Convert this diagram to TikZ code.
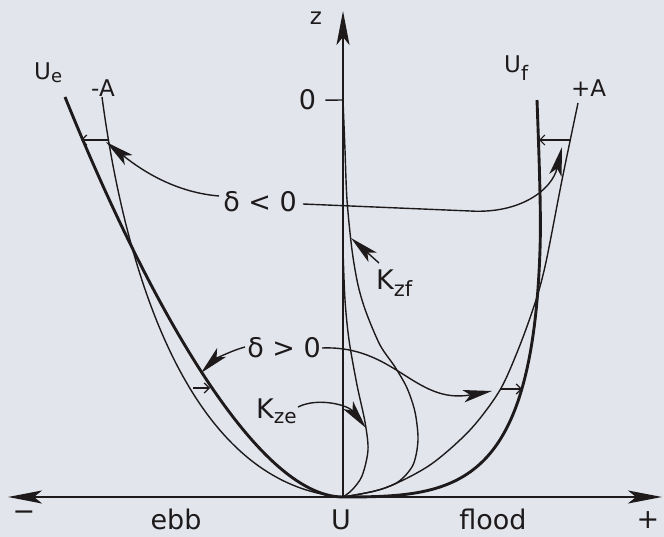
\documentclass[tikz,border=0pt]{standalone}
\usepackage{fontspec}
\setmainfont{DejaVu Sans}
\usetikzlibrary{arrows.meta}
\definecolor{bg}{RGB}{226,230,236}
\definecolor{ink}{RGB}{30,26,28}
\newcommand{\fsz}[1]{\fontsize{#1}{#1}\selectfont}
\newcommand{\lowsub}[3]{\raisebox{-#1}{\fsz{#2}#3}}
\begin{document}
\begin{tikzpicture}[x=1pt,y=-1pt,
  lbl/.style={inner sep=0pt,text=ink,font=\fsz{23}},
  mid/.style={inner sep=0pt,text=ink,font=\fsz{27}},
  bot/.style={inner sep=0pt,text=ink,font=\fsz{27}},
  thinline/.style={draw=ink,line width=1.4pt},
  thickline/.style={draw=ink,line width=2.9pt},
  axisline/.style={draw=ink,line width=2.1pt},
  bigtip/.style={-{Stealth[length=29pt,width=12.5pt,inset=7pt]}},
  axtip/.style={-{Stealth[length=34pt,width=13pt,inset=8pt]}},
  smalltip/.style={-{Straight Barb[length=5pt,width=10pt,line width=1.2pt]}},
]
\fill[bg] (0,0) rectangle (664,537);
\useasboundingbox (0,0) rectangle (664,537);

% axes
\coordinate (O) at (343,497);
\coordinate (xl) at (8,497);
\coordinate (xr) at (662,497);
\coordinate (zt) at (343,11);
\draw[axisline,axtip] (O) -- (zt);
\draw[axisline,axtip] (O) -- (xl);
\draw[axisline,axtip] (O) -- (xr);

% axis labels
\node[lbl,anchor=base] (zl) at (316,25) {z};
\node[mid,anchor=base] (zero) at (307.5,110) {0};
\coordinate (s0) at (343,100);
\draw[thinline] ([xshift=9pt]zero.east) -- (s0);
\node[bot,anchor=base] (ebb) at (176,529) {ebb};
\node[bot,anchor=base] (ul) at (341,529) {U};
\node[bot,anchor=base] (flood) at (493,529) {flood};
\node[bot] (minus) at (24,516) {−};
\node[bot] (plus) at (648,520) {+};

% velocity profiles
\draw[thickline] (65,97) .. controls (145,295) and (255,497) .. (O);
\draw[thinline] (102,97) .. controls (125,270) and (188,485) .. (O);
\draw[thickline] (537,100) .. controls (540,180) and (541,220) .. (540,250)
   .. controls (532,490) and (455,497) .. (O);
\draw[thinline] plot[smooth] coordinates {(578,103) (562,180) (546,262) (536,300)
   (520,345) (500,390) (470,430) (430,465) (385,488) (343,497)};

% diffusivity profiles
\draw[thinline] plot[smooth] coordinates {(343,100) (345,150) (347,200) (352,250)
   (358,285) (366,312) (380,345) (395,367) (407,388) (415,412) (418,440) (413,465)
   (398,482) (375,491) (343,497)};
\draw[thinline] plot[smooth] coordinates {(343,250) (345,300) (349,340) (357,385)
   (365,422) (368,450) (362,476) (352,490) (343,497)};

% profile labels
\node[lbl,anchor=base west] (ue) at (34,80) {U\lowsub{3pt}{18}{e}};
\node[lbl,anchor=base west] (ma) at (91,97) {-A};
\node[lbl,anchor=base west] (uf) at (504,73) {U\lowsub{8pt}{20}{f}};
\node[lbl,anchor=base west] (pa) at (571,97) {+A};
\node[mid,anchor=base west] (kzf) at (376,290) {K\lowsub{7pt}{21}{zf}};
\node[mid,anchor=base west] (kze) at (256,418) {K\lowsub{5pt}{20}{ze}};

% small phase arrows
\coordinate (aL1) at (109,140); \coordinate (eL1) at (81,140);
\coordinate (aR1) at (571,140); \coordinate (fR1) at (539,140);
\coordinate (aL2) at (193,388); \coordinate (eL2) at (210,388);
\coordinate (aR2) at (500,389); \coordinate (fR2) at (522,389);
\draw[thinline,smalltip] (aL1) -- (eL1);
\draw[thinline,smalltip] (aR1) -- (fR1);
\draw[thinline,smalltip] (aL2) -- (eL2);
\draw[thinline,smalltip] (aR2) -- (fR2);

% delta labels and arrows
\node[mid,anchor=base] (dneg) at (260,212) {δ < 0};
\node[mid,anchor=base] (dpos) at (284,357) {δ > 0};
\coordinate (dnL) at (219,196); \coordinate (dnLt) at (106,142);
\coordinate (dnR) at (303,204); \coordinate (dnRm) at (470,211); \coordinate (dnRt) at (562,147);
\coordinate (dpL) at (245,347); \coordinate (dpLt) at (201,373);
\coordinate (dpR) at (322,348); \coordinate (dpRt) at (492,391);
\draw[thinline,bigtip] (dnL) .. controls (170,192) and (135,165) .. (dnLt);
\draw[thinline,bigtip] (dnR) -- (dnRm) .. controls (520,214) and (552,190) .. (dnRt);
\draw[thinline,bigtip] (dpL) .. controls (230,351) and (214,360) .. (dpLt);
\draw[thinline,bigtip] (dpR) .. controls (395,345) and (415,405) .. (dpRt);

% K arrows
\coordinate (kzfA) at (379,263); \coordinate (kzfT) at (351,238);
\coordinate (kzeA) at (298,407); \coordinate (kzeT) at (366,428);
\draw[thinline,bigtip] (kzfA) -- (kzfT);
\draw[thinline,bigtip] (kzeA) .. controls (318,397) and (348,405) .. (kzeT);
\end{tikzpicture}
\end{document}
